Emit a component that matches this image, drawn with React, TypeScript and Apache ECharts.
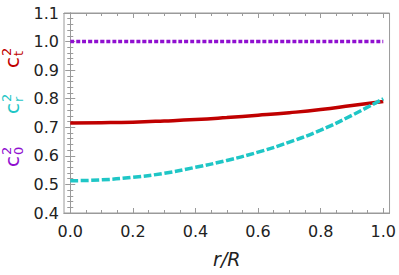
import React, { useEffect, useRef } from "react";
import * as echarts from "echarts";

const rValues = [0, 0.1, 0.2, 0.3, 0.4, 0.5, 0.6, 0.7, 0.8, 0.9, 1.0];
const ct2 = [0.715, 0.716, 0.718, 0.722, 0.727, 0.734, 0.742, 0.751, 0.762, 0.776, 0.79];
const cr2 = [0.513, 0.516, 0.525, 0.539, 0.56, 0.584, 0.613, 0.648, 0.69, 0.742, 0.8];
const c02 = [1.0, 1.0, 1.0, 1.0, 1.0, 1.0, 1.0, 1.0, 1.0, 1.0, 1.0];
const xMajorTicks = [0, 0.2, 0.4, 0.6, 0.8, 1.0];
const xMinorTicks = [0, 0.05, 0.1, 0.15, 0.2, 0.25, 0.3, 0.35, 0.4, 0.45, 0.5, 0.55, 0.6, 0.65, 0.7, 0.75, 0.8, 0.85, 0.9, 0.95, 1.0];

const RED = "#c00000";
const CYAN = "#1fc6c6";
const PURPLE = "#9010d0";
const FRAME = "#9a9a9a";
const FONT = "DejaVu Sans";

function pairs(ys: number[]) {
  return rValues.map((r, i) => [r, ys[i]]);
}

function sideLabel(x: number, y: number, sub: string, color: string) {
  // group rotated 90deg CCW; local +x points up on screen, local -y points left
  return {
    type: "group",
    x,
    y,
    rotation: Math.PI / 2,
    children: [
      { type: "text", x: 0, y: 0, style: { text: "c", fill: color, font: `20px '${FONT}'`, textVerticalAlign: "bottom" } },
      { type: "text", x: 12, y: 3, style: { text: sub, fill: color, font: `13px '${FONT}'`, textVerticalAlign: "bottom" } },
      { type: "text", x: 12, y: -9, style: { text: "2", fill: color, font: `13px '${FONT}'`, textVerticalAlign: "bottom" } },
    ],
  };
}

export default function App() {
  const ref = useRef<HTMLDivElement>(null);
  useEffect(() => {
    if (!ref.current) return;
    const chart = echarts.init(ref.current, null, { renderer: "svg" });
    const xBase = {
      type: "value",
      min: -0.02,
      max: 1.02,
      axisLine: { show: true, lineStyle: { color: FRAME } },
      splitLine: { show: false },
    };
    const yBase = {
      type: "value",
      min: 0.4,
      max: 1.1,
      interval: 0.1,
      axisLine: { show: true, lineStyle: { color: FRAME } },
      splitLine: { show: false },
      minorTick: { show: true, splitNumber: 5, length: 3, lineStyle: { color: FRAME } },
      axisTick: { inside: true, length: 5, lineStyle: { color: FRAME } },
    };
    chart.setOption({
      animation: false,
      grid: { left: 64, right: 9, top: 13, bottom: 62, show: true, borderColor: FRAME, borderWidth: 1 },
      xAxis: [
        {
          ...xBase,
          position: "bottom",
          name: "r/R",
          nameLocation: "middle",
          nameGap: 36,
          nameTextStyle: { fontFamily: FONT, fontStyle: "italic", fontSize: 19, color: "#222" },
          axisTick: { inside: true, length: 5, customValues: xMajorTicks, lineStyle: { color: FRAME } },
          axisLabel: {
            customValues: xMajorTicks,
            formatter: (v: number) => v.toFixed(1),
            fontFamily: FONT,
            fontSize: 16,
            color: "#222",
            margin: 10,
          },
        },
        {
          ...xBase,
          position: "bottom",
          axisTick: { inside: true, length: 3, customValues: xMinorTicks, lineStyle: { color: FRAME } },
          axisLabel: { show: false },
        },
        {
          ...xBase,
          position: "top",
          axisTick: { inside: true, length: 5, customValues: xMajorTicks, lineStyle: { color: FRAME } },
          axisLabel: { show: false },
        },
        {
          ...xBase,
          position: "top",
          axisTick: { inside: true, length: 3, customValues: xMinorTicks, lineStyle: { color: FRAME } },
          axisLabel: { show: false },
        },
      ],
      yAxis: [
        {
          ...yBase,
          position: "left",
          axisLabel: {
            formatter: (v: number) => v.toFixed(1),
            fontFamily: FONT,
            fontSize: 16,
            color: "#222",
            margin: 5,
          },
        },
        {
          ...yBase,
          position: "right",
          axisLabel: { show: false },
        },
      ],
      graphic: [sideLabel(22, 68, "t", RED), sideLabel(22, 114, "r", CYAN), sideLabel(22, 167, "0", PURPLE)],
      series: [
        {
          type: "line",
          data: pairs(c02),
          showSymbol: false,
          smooth: true,
          lineStyle: { color: PURPLE, width: 3.5, type: [4, 2] },
        },
        {
          type: "line",
          data: pairs(ct2),
          showSymbol: false,
          smooth: true,
          lineStyle: { color: RED, width: 3.5 },
        },
        {
          type: "line",
          data: pairs(cr2),
          showSymbol: false,
          smooth: true,
          lineStyle: { color: CYAN, width: 3.5, type: [8, 2.5] },
        },
      ],
    });
    return () => chart.dispose();
  }, []);
  return <div ref={ref} style={{ position: "absolute", left: 0, top: 0, width: 399, height: 275 }} />;
}
